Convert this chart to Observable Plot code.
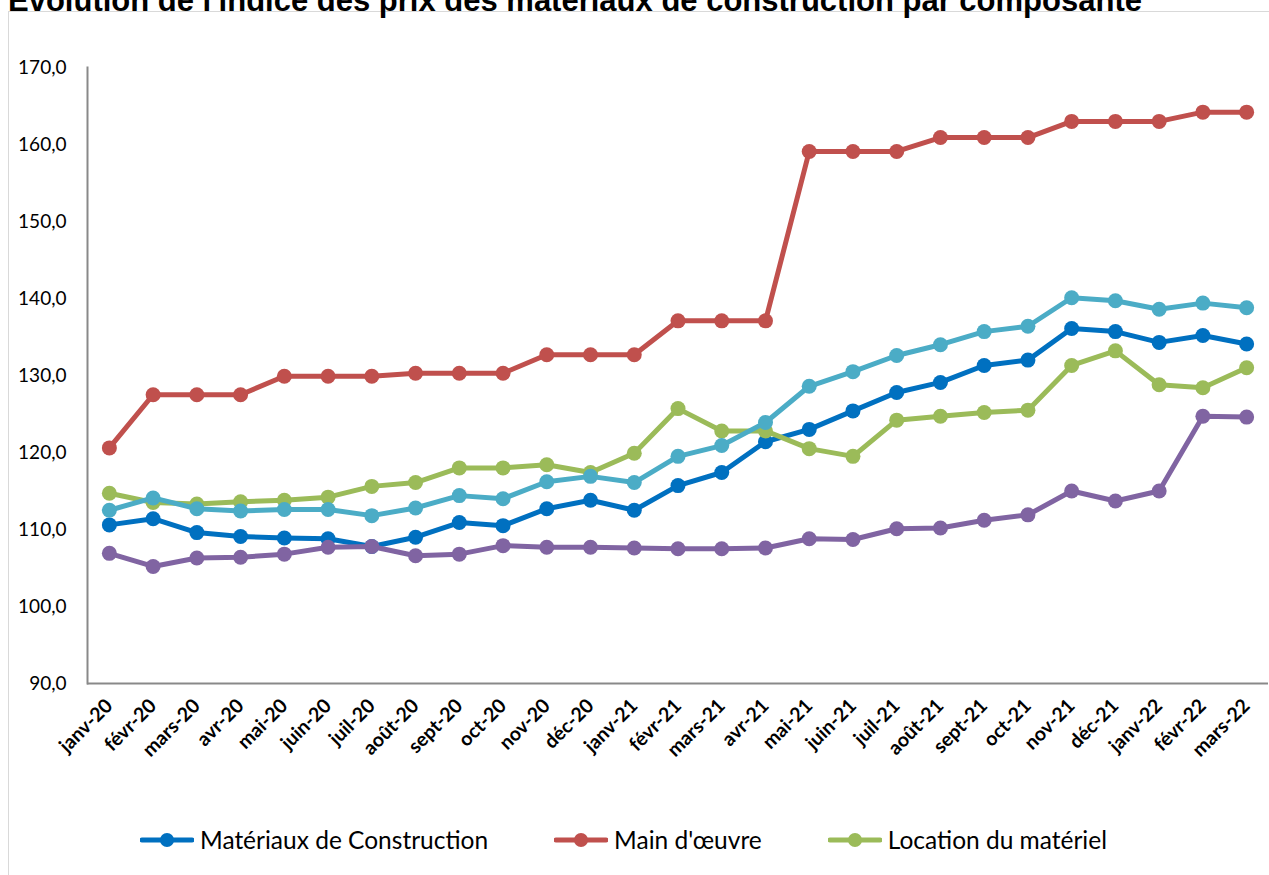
<!DOCTYPE html>
<html><head><meta charset="utf-8">
<script src="https://cdn.jsdelivr.net/npm/d3@7"></script>
<script src="https://cdn.jsdelivr.net/npm/@observablehq/plot@0.6"></script>
<style>
body{margin:0;background:#fff;width:1269px;height:875px;overflow:hidden;position:relative;font-family:Lato,sans-serif;}
#frame{position:absolute;left:8px;top:11px;width:1300px;height:900px;border:1.5px solid #d9d9d9;box-sizing:border-box;}
#title{position:absolute;left:8px;top:-15px;font:bold 31px "Liberation Sans",Arial,sans-serif;white-space:nowrap;line-height:1;color:#000;}
#chart{position:absolute;left:0;top:0;}
#legend{position:absolute;left:140px;top:825px;display:flex;gap:66px;align-items:center;font-size:24.5px;color:#000;}
.item{display:flex;align-items:center;}
.item svg{margin-right:6px;}
</style></head><body>
<div id="frame"></div>
<div id="title">Évolution de l'indice des prix des matériaux de construction par composante</div>
<div id="chart"></div>
<div id="legend"></div>
<script>
const months = ["janv-20","févr-20","mars-20","avr-20","mai-20","juin-20","juil-20","août-20","sept-20","oct-20","nov-20","déc-20","janv-21","févr-21","mars-21","avr-21","mai-21","juin-21","juil-21","août-21","sept-21","oct-21","nov-21","déc-21","janv-22","févr-22","mars-22"];
const yTicks = [90,100,110,120,130,140,150,160,170];

const materiaux = [110.6,111.4,109.6,109.1,108.9,108.8,107.8,109.0,110.9,110.5,112.7,113.8,112.5,115.7,117.4,121.4,123.0,125.4,127.8,129.1,131.3,132.0,136.1,135.7,134.3,135.2,134.1];
const mainOeuvre = [120.6,127.5,127.5,127.5,129.9,129.9,129.9,130.3,130.3,130.3,132.7,132.7,132.7,137.1,137.1,137.1,159.1,159.1,159.1,160.9,160.9,160.9,163.0,163.0,163.0,164.2,164.2];
const location_ = [114.7,113.5,113.3,113.6,113.8,114.2,115.6,116.1,118.0,118.0,118.4,117.4,119.9,125.7,122.8,122.8,120.5,119.5,124.2,124.7,125.2,125.5,131.3,133.2,128.8,128.4,131.0];
const serie4 = [112.5,114.1,112.7,112.4,112.6,112.6,111.8,112.8,114.4,114.0,116.2,116.9,116.1,119.5,120.9,123.9,128.6,130.5,132.6,134.0,135.7,136.4,140.1,139.7,138.6,139.4,138.8];
const serie5 = [106.9,105.2,106.3,106.4,106.8,107.7,107.8,106.6,106.8,107.9,107.7,107.7,107.6,107.5,107.5,107.6,108.8,108.7,110.1,110.2,111.2,111.9,115.0,113.7,115.0,124.7,124.6];

const seriesNames = ["Matériaux de Construction","Main d'œuvre","Location du matériel","Série 4","Série 5"];
const seriesValues = [materiaux, mainOeuvre, location_, serie4, serie5];
const seriesColors = ["#0070C0","#C0504D","#9BBB59","#4BACC6","#8064A2"];
const legendCount = 3;

const seriesMarks = [];
seriesValues.forEach((vals, i) => {
  const data = months.map((m, j) => ({month: m, value: vals[j]}));
  seriesMarks.push(Plot.line(data, {x: "month", y: "value", stroke: seriesColors[i], strokeWidth: 5, strokeLinejoin: "round"}));
  seriesMarks.push(Plot.dot(data, {x: "month", y: "value", fill: seriesColors[i], r: 7.5, stroke: "none"}));
});

const chart = Plot.plot({
  width: 1269, height: 800,
  marginLeft: 87, marginTop: 67, marginBottom: 117, marginRight: 1,
  style: {fontFamily: "Lato, sans-serif", background: "transparent", overflow: "visible", color: "#000"},
  x: {type: "point", domain: months, padding: 0.5, round: false, label: null},
  y: {domain: [90, 170], label: null},
  marks: [
    Plot.ruleY([90], {stroke: "#898989", strokeWidth: 2}),
    Plot.frame({anchor: "left", stroke: "#898989", strokeWidth: 2}),
    Plot.axisY({ticks: yTicks, tickSize: 0, tickPadding: 21, tickFormat: d => d.toFixed(1).replace(".", ","), fontSize: 19, label: null}),
    Plot.axisX({tickSize: 0, tickRotate: -45, tickPadding: 19, fontSize: 19.5, fontWeight: "bold", label: null}),
    ...seriesMarks
  ]
});
document.getElementById("chart").appendChild(chart);

const legend = document.getElementById("legend");
for (let i = 0; i < legendCount; i++) {
  const item = document.createElement("div");
  item.className = "item";
  item.innerHTML = `<svg width="54" height="18"><line x1="2" y1="9" x2="52" y2="9" stroke="${seriesColors[i]}" stroke-width="5" stroke-linecap="round"/><circle cx="27" cy="9" r="7" fill="${seriesColors[i]}"/></svg><span>${seriesNames[i]}</span>`;
  legend.appendChild(item);
}
</script>
</body></html>
